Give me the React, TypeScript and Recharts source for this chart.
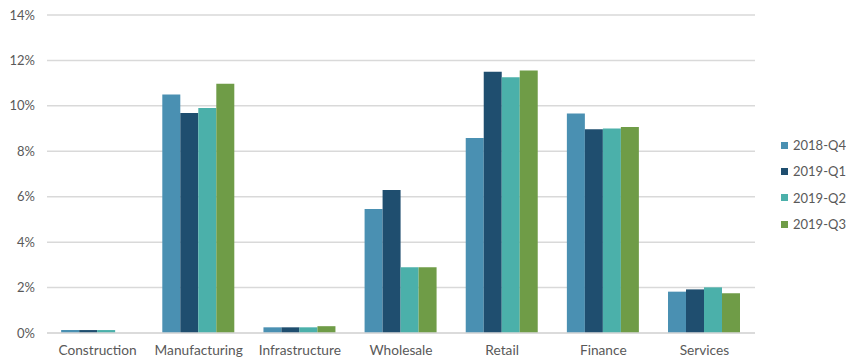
import { Bar, BarChart, CartesianGrid, XAxis, YAxis } from "recharts";

const categories = [
  "Construction",
  "Manufacturing",
  "Infrastructure",
  "Wholesale",
  "Retail",
  "Finance",
  "Services",
];

const q4_2018 = [0.13, 10.5, 0.25, 5.46, 8.58, 9.66, 1.82];
const q1_2019 = [0.13, 9.69, 0.25, 6.3, 11.5, 8.97, 1.92];
const q2_2019 = [0.13, 9.91, 0.25, 2.9, 11.26, 9.0, 2.01];
const q3_2019 = [null, 10.97, 0.3, 2.9, 11.56, 9.07, 1.75];

const yTicks = [0, 2, 4, 6, 8, 10, 12, 14];

const series = [
  { key: "2018-Q4", color: "#4a90b2", values: q4_2018 },
  { key: "2019-Q1", color: "#1f4e6f", values: q1_2019 },
  { key: "2019-Q2", color: "#4bb0aa", values: q2_2019 },
  { key: "2019-Q3", color: "#6f9c47", values: q3_2019 },
];

const data = categories.map((name, i) => {
  const row: Record<string, string | number | null> = { name };
  series.forEach((s) => {
    row[s.key] = s.values[i];
  });
  return row;
});

const font = "Lato, 'Open Sans', sans-serif";
const textColor = "#595959";

export default function App() {
  return (
    <div style={{ position: "absolute", left: 0, top: 0, width: 846, height: 358, background: "#fff", fontFamily: font }}>
      <BarChart
        width={846}
        height={358}
        data={data}
        margin={{ top: 15, right: 91, bottom: 0, left: 0 }}
        barGap={0}
        barCategoryGap="14%"
      >
        <CartesianGrid vertical={false} stroke="#d9d9d9" strokeWidth={1.5} />
        <XAxis
          dataKey="name"
          axisLine={{ stroke: "#d9d9d9", strokeWidth: 1.5 }}
          tickLine={false}
          height={25}
          tickMargin={6}
          tick={{ fill: textColor, fontSize: 13.7, fontFamily: font }}
          interval={0}
        />
        <YAxis
          domain={[0, 14]}
          ticks={yTicks}
          width={47}
          axisLine={false}
          tickLine={false}
          tickMargin={6}
          tickFormatter={(v) => `${v}%`}
          tick={{ fill: textColor, fontSize: 13, fontFamily: font }}
        />
        {series.map((s) => (
          <Bar key={s.key} dataKey={s.key} fill={s.color} isAnimationActive={false} />
        ))}
      </BarChart>
      <div style={{ position: "absolute", left: 781, top: 132 }}>
        {series.map((s) => (
          <div key={s.key} style={{ display: "flex", alignItems: "center", height: 26.3 }}>
            <span style={{ width: 7, height: 7, background: s.color, marginRight: 5, display: "inline-block" }} />
            <span style={{ fontSize: 13, color: textColor }}>{s.key}</span>
          </div>
        ))}
      </div>
    </div>
  );
}
